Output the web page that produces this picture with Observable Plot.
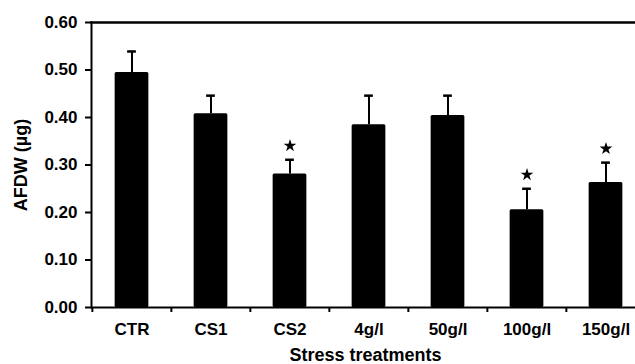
<!DOCTYPE html>
<html>
<head>
<meta charset="utf-8">
<script src="https://cdn.jsdelivr.net/npm/d3@7"></script>
<script src="https://cdn.jsdelivr.net/npm/@observablehq/plot@0.6"></script>
<style>
  html, body { margin: 0; padding: 0; background: #fff; overflow: hidden; }
  svg text { font-weight: bold; }
</style>
</head>
<body>
<div id="chart"></div>
<script>
const categories = ["CTR", "CS1", "CS2", "4g/l", "50g/l", "100g/l", "150g/l"];
const means = [0.495, 0.408, 0.281, 0.385, 0.404, 0.206, 0.263];
const errors = [0.044, 0.038, 0.030, 0.061, 0.042, 0.044, 0.042];
const significant = ["CS2", "100g/l", "150g/l"];
const yTicks = [0, 0.1, 0.2, 0.3, 0.4, 0.5, 0.6];

const data = categories.map((c, i) => ({cat: c, value: means[i], top: means[i] + errors[i]}));
const stars = data.filter(d => significant.includes(d.cat));

const W = 635, H = 364;
const mL = 91, mR = -11, mT = 22, mB = 57;
const step = (W - mR - mL) / categories.length;
const fmt = d3.format(".2f");

const chart = Plot.plot({
  width: W,
  height: H,
  marginLeft: mL,
  marginRight: mR,
  marginTop: mT,
  marginBottom: mB,
  style: {fontFamily: "'Liberation Sans', Arial, sans-serif", color: "black", background: "white"},
  x: {domain: categories, padding: 0, axis: null},
  y: {domain: [0, 0.6], axis: null},
  marks: [
    Plot.barY(data, {x: "cat", y: "value", fill: "black", insetLeft: step / 2 - 17, insetRight: step / 2 - 17, rx: 1.5}),
    Plot.ruleX(data, {x: "cat", y1: "value", y2: "top", stroke: "black", strokeWidth: 2}),
    Plot.tickY(data, {x: "cat", y: "top", stroke: "black", strokeWidth: 2.5, insetLeft: step / 2 - 4.5, insetRight: step / 2 - 4.5}),
    Plot.dot(stars, {x: "cat", y: "top", dy: -14, symbol: "star", r: 4, fill: "black", stroke: null}),
    Plot.frame({anchor: "left", stroke: "black", strokeWidth: 2}),
    Plot.frame({anchor: "top", stroke: "black", strokeWidth: 2.5}),
    Plot.ruleY([0], {stroke: "black", strokeWidth: 2}),
    Plot.axisY({ticks: yTicks, tickFormat: () => "", tickSize: 6, strokeWidth: 2, label: null}),
    Plot.axisX({tickSize: 5, tickFormat: () => "", dx: -step / 2, strokeWidth: 2, label: null}),
    Plot.text(yTicks, {y: d => d, text: d => fmt(d), frameAnchor: "left", textAnchor: "end", dx: -14, fontSize: 17, fontWeight: "bold", fill: "black"}),
    Plot.text(categories, {x: d => d, text: d => d, frameAnchor: "bottom", textAnchor: "middle", lineAnchor: "middle", dy: 22, fontSize: 17, fontWeight: "bold", fill: "black"}),
    Plot.text(["AFDW (µg)"], {frameAnchor: "left", textAnchor: "middle", rotate: -90, dx: -70, fontSize: 18, fontWeight: "bold", fill: "black"}),
    Plot.text(["Stress treatments"], {frameAnchor: "bottom", textAnchor: "middle", lineAnchor: "middle", dx: -3.5, dy: 48, fontSize: 18, fontWeight: "bold", fill: "black"})
  ]
});
document.getElementById("chart").appendChild(chart);
</script>
</body>
</html>
